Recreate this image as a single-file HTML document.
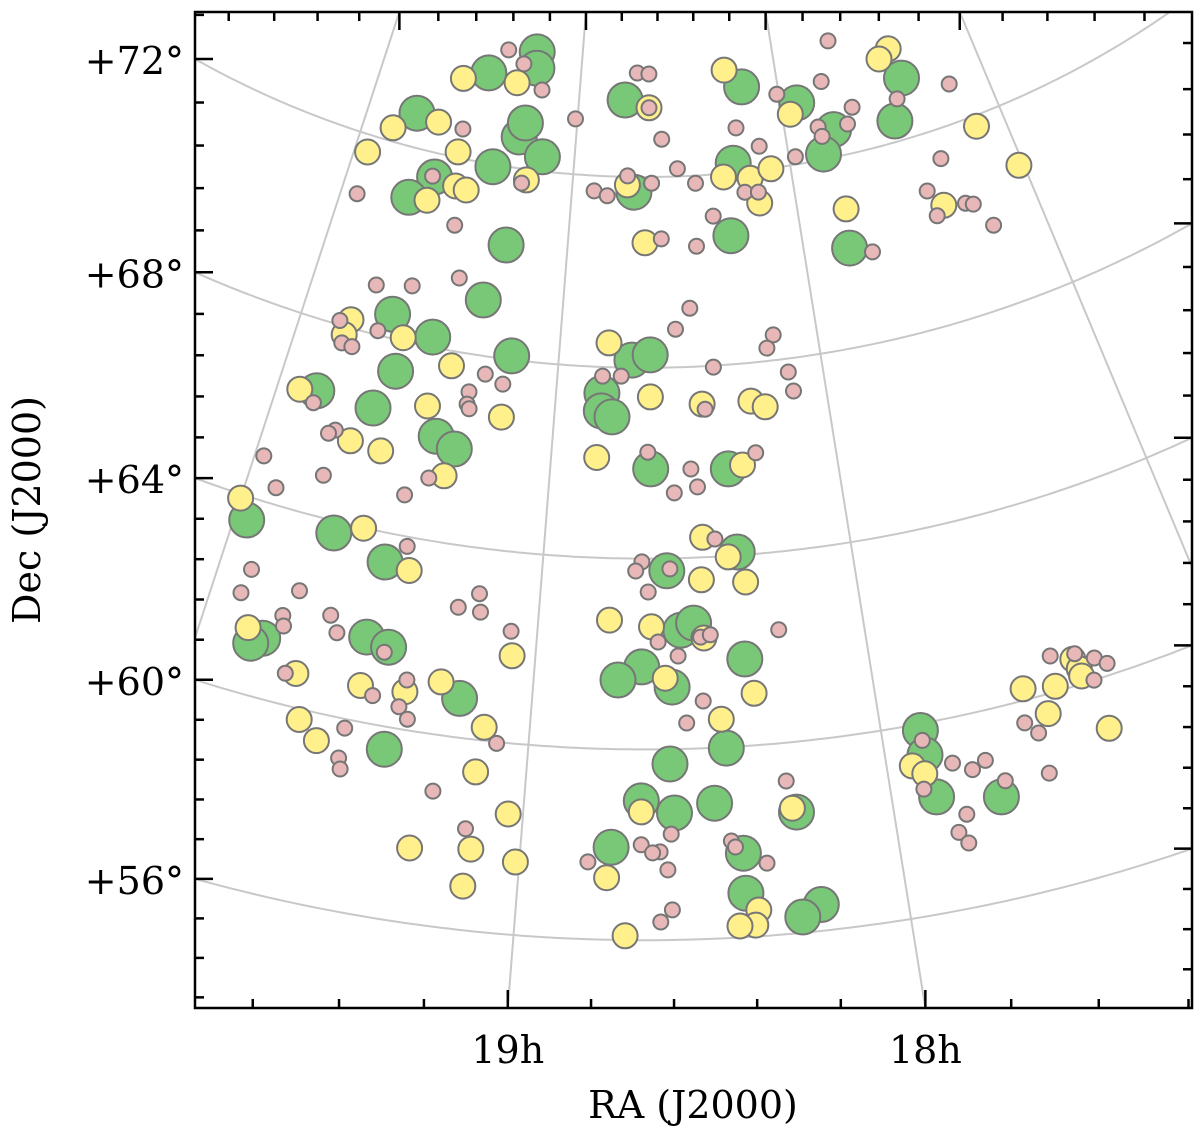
<!DOCTYPE html>
<html><head><meta charset="utf-8"><style>
html,body{margin:0;padding:0;background:#fff;width:1200px;height:1130px;overflow:hidden;}
svg{display:block;font-family:"DejaVu Serif","Liberation Serif",serif;}
</style></head><body>
<svg id="chart" width="1200" height="1130" viewBox="0 0 1200 1130" xmlns="http://www.w3.org/2000/svg">
<defs><clipPath id="plotclip"><rect x="195" y="12" width="997" height="996"/></clipPath></defs>
<rect x="0" y="0" width="1200" height="1130" fill="#fff"/>
<g id="grid" clip-path="url(#plotclip)"></g>
<g id="marks" clip-path="url(#plotclip)"></g>
<g id="ticks"></g>
<rect x="195" y="12" width="997" height="996" fill="none" stroke="#000" stroke-width="2.5"/>
<g id="labels" font-size="38" fill="#000"></g>
<text x="693" y="1118" font-size="38" text-anchor="middle">RA (J2000)</text>
<text x="0" y="0" font-size="38" text-anchor="middle" transform="translate(40,510) rotate(-90)">Dec (J2000)</text>
</svg>
<script>
const greenRA=[19.24,19.23,19.47,19.77,19.27,19.25,19.15,19.37,19.62,19.71,19.26,19.32,19.66,19.49,19.18,19.60,19.86,19.65,19.41,19.34,19.96,19.68,19.50,19.81,19.84,19.51,19.44,19.21,19.40,18.72,18.65,18.77,18.18,17.92,17.77,17.84,18.72,18.26,18.30,17.81,17.39,17.48,18.83,18.83,18.79,18.65,18.38,18.37,18.60,18.56,18.52,18.37,18.68,18.75,18.59,18.44,18.60,18.68,18.59,18.48,18.26,18.76,18.41,18.41,18.22,18.27,17.89,17.89,17.88,17.71];
const greenDec=[74.47,74.13,73.87,72.71,72.65,72.96,72.30,71.95,71.50,70.96,70.37,69.16,68.50,68.21,68.08,67.35,66.54,66.49,66.18,65.98,63.52,63.75,63.39,61.24,61.07,61.77,61.65,60.82,59.53,68.16,68.27,73.61,73.77,73.27,72.57,72.11,71.68,72.20,70.69,70.07,73.25,72.43,67.45,67.08,66.96,65.88,65.82,64.07,63.74,62.49,62.63,61.82,61.73,61.45,61.30,59.98,59.69,58.92,58.66,58.84,58.53,57.94,57.76,56.92,56.55,56.33,59.86,59.34,58.43,58.15];
const yellowRA=[19.32,19.59,19.86,19.66,19.94,19.54,19.52,19.47,19.63,19.21,19.81,19.82,19.60,19.40,19.92,19.46,19.19,19.70,19.59,19.36,20.00,19.59,19.42,19.86,19.07,19.69,19.50,19.27,19.37,19.65,19.59,19.13,19.14,19.04,19.29,19.13,19.01,19.14,18.81,18.65,18.26,17.96,18.75,18.31,18.19,18.09,18.16,17.79,18.67,17.41,17.47,17.13,17.02,17.38,18.65,18.84,18.46,18.28,18.23,18.33,18.48,18.40,18.49,18.35,18.78,18.65,18.49,18.61,18.35,18.45,18.68,18.27,18.77,18.38,18.39,18.43,18.72,17.42,17.41,17.41,17.58,17.49,17.53,17.38,17.93,17.90];
const yellowDec=[73.77,73.65,72.28,72.64,71.64,72.12,71.41,71.37,70.99,71.78,68.17,67.83,68.07,67.69,66.47,66.77,66.78,65.71,65.65,65.39,63.92,63.99,63.31,61.37,61.83,60.70,60.75,61.11,60.79,59.78,59.43,60.28,59.33,58.52,57.57,57.71,57.53,56.92,68.51,73.45,74.16,73.06,71.83,71.93,71.85,71.99,71.31,70.89,70.62,73.92,73.77,71.78,70.69,70.44,67.39,66.10,67.21,67.20,67.05,65.88,64.42,63.98,63.53,63.43,62.70,62.57,62.31,61.49,61.09,60.59,58.69,58.62,57.30,56.55,56.24,56.24,56.09,60.55,60.32,60.16,60.24,60.11,59.60,58.94,59.16,58.95];
const pinkRA=[19.39,19.30,19.54,19.63,19.93,19.23,19.49,19.43,19.75,19.61,19.85,19.82,19.78,19.70,19.27,19.20,19.86,19.32,19.32,19.31,19.76,19.78,19.97,19.76,19.41,19.90,19.48,19.44,19.90,19.91,19.74,19.25,19.19,19.18,19.77,19.76,19.63,19.60,19.45,19.08,19.72,19.37,19.46,19.38,19.35,19.52,19.52,19.51,19.09,19.25,19.15,19.19,19.01,18.71,18.65,18.65,18.59,17.70,17.78,18.01,17.66,18.23,18.13,17.84,17.70,17.83,17.97,18.52,18.44,18.90,18.84,18.75,18.64,18.22,18.16,18.37,18.60,18.45,18.49,18.55,18.17,18.20,17.18,17.44,17.33,17.43,17.42,17.29,17.26,17.21,17.72,18.41,18.13,18.12,18.83,18.76,18.45,18.66,18.51,18.57,18.49,18.28,18.44,18.68,18.70,18.59,18.66,18.50,18.47,18.63,18.57,18.26,18.50,18.55,18.60,18.28,18.82,18.68,18.63,18.65,18.61,18.44,18.43,18.35,18.60,18.63,17.48,17.41,17.36,17.33,17.38,17.60,17.57,17.57,17.89,17.91,17.82,17.77,17.73,17.69,17.81,17.84,17.82];
const pinkDec=[74.42,74.18,72.61,71.51,70.74,71.70,70.60,69.53,69.01,69.17,68.09,67.65,67.63,68.09,67.63,67.47,66.28,67.21,66.95,66.86,65.85,65.75,64.91,64.87,65.29,64.35,64.85,63.80,62.56,62.03,62.40,62.71,63.05,62.67,61.81,61.60,62.06,61.73,61.53,62.34,60.65,61.04,60.59,60.46,60.23,59.81,59.17,58.95,59.97,58.82,58.12,73.69,73.16,74.18,74.16,73.45,72.79,74.41,73.61,73.52,72.94,72.93,72.49,72.69,72.62,72.48,72.16,72.16,71.84,71.68,71.59,72.02,71.87,71.57,71.54,71.13,70.70,70.52,69.23,68.80,68.53,68.27,72.81,72.86,71.39,70.83,70.27,70.34,70.27,69.71,69.89,67.97,67.72,67.31,67.81,67.82,67.10,66.23,65.86,65.37,65.48,66.11,64.37,63.93,63.74,63.78,63.30,62.33,62.37,62.25,61.95,62.37,60.99,60.54,58.22,59.20,57.62,58.00,57.85,57.83,57.47,58.03,57.90,57.52,56.63,56.38,60.75,60.65,60.44,60.25,60.00,59.54,59.26,58.39,59.65,58.64,59.06,58.84,58.97,58.46,57.95,57.61,57.35];
const decGrid=[52,56,60,64,68,72];
const raGrid=[16,17,18,19,20,21];
const decLabelValues=[56,60,64,68,72];
const decLabelText=["+56°","+60°","+64°","+68°","+72°"];
const raLabelValues=[19,18];
const raLabelText=["19h","18h"];

const NS="http://www.w3.org/2000/svg";
const PX=645,PY=-740,R72=917,K=47.7,RA0=18.67,DEGH=13.6;
const X0=195,X1=1192,Y0=12,Y1=1008;
function rad(dec){return R72+K*(72-dec);}
function theta(ra){return (ra-RA0)*DEGH*Math.PI/180;}
function proj(ra,dec){const r=rad(dec),t=theta(ra);return [PX-r*Math.sin(t),PY+r*Math.cos(t)];}
function mk(tag,attrs,parent){const e=document.createElementNS(NS,tag);for(const k in attrs)e.setAttribute(k,attrs[k]);parent.appendChild(e);return e;}

const grid=document.getElementById('grid');
decGrid.forEach(d=>{
  let pts=[];for(let ra=15.5;ra<=22;ra+=0.02){const p=proj(ra,d);pts.push(p[0].toFixed(1)+','+p[1].toFixed(1));}
  const e=mk('polyline',{points:pts.join(' '),fill:'none',stroke:'#c8c8c8','stroke-width':2},grid);
  
  
});
raGrid.forEach(h=>{
  const a=proj(h,80),b=proj(h,45);
  const e=mk('line',{x1:a[0],y1:a[1],x2:b[0],y2:b[1],stroke:'#c8c8c8','stroke-width':2},grid);
  
  
});

const marks=document.getElementById('marks');
function drawSeries(ras,decs,r,fill,name){
  for(let i=0;i<ras.length;i++){
    const p=proj(ras[i],decs[i]);
    const c=mk('circle',{cx:p[0].toFixed(1),cy:p[1].toFixed(1),r:r,fill:fill,stroke:'#767676','stroke-width':2},marks);
    
    
  }
}
drawSeries(greenRA,greenDec,17.5,'#78c878','green-source');
drawSeries(yellowRA,yellowDec,12.5,'#fff08c','yellow-source');
drawSeries(pinkRA,pinkDec,7.5,'#e8b8b8','pink-source');

const ticks=document.getElementById('ticks');
function tick(x1,y1,x2,y2){
  const e=mk('line',{x1:x1,y1:y1,x2:x2,y2:y2,stroke:'#000','stroke-width':2.5},ticks);
  
  
}
function decAtEdge(d,xe){const r=rad(d),dx=xe-PX;if(r<Math.abs(dx))return null;return PY+Math.sqrt(r*r-dx*dx);}
function raAtEdge(h,ye){return PX-(ye-PY)*Math.tan(theta(h));}
for(let k=-6;k<=30;k++){
  const d=72-0.8*k;const major=(k%5===0);const L=major?18:9;
  const yl=decAtEdge(d,X0);if(yl!==null&&yl>Y0+2&&yl<Y1-2)tick(X0,yl,X0+L,yl);
  const yr=decAtEdge(d,X1);if(yr!==null&&yr>Y0+2&&yr<Y1-2)tick(X1,yr,X1-L,yr);
}
for(let k=75;k<=110;k++){
  const h=k/5;const major=(k%5===0);const L=major?18:9;
  const xt=raAtEdge(h,Y0);if(xt>X0+2&&xt<X1-2)tick(xt,Y0,xt,Y0+L);
  const xb=raAtEdge(h,Y1);if(xb>X0+2&&xb<X1-2)tick(xb,Y1,xb,Y1-L);
}

const labels=document.getElementById('labels');
decLabelValues.forEach((d,i)=>{
  const y=decAtEdge(d,X0);
  const t=mk('text',{x:184,y:(y+15).toFixed(1),'text-anchor':'end'},labels);
  t.textContent=decLabelText[i];
  
  
});
raLabelValues.forEach((h,i)=>{
  const x=raAtEdge(h,Y1);
  const t=mk('text',{x:x.toFixed(1),y:1063,'text-anchor':'middle'},labels);
  t.textContent=raLabelText[i];
  
  
});
</script>
</body></html>
